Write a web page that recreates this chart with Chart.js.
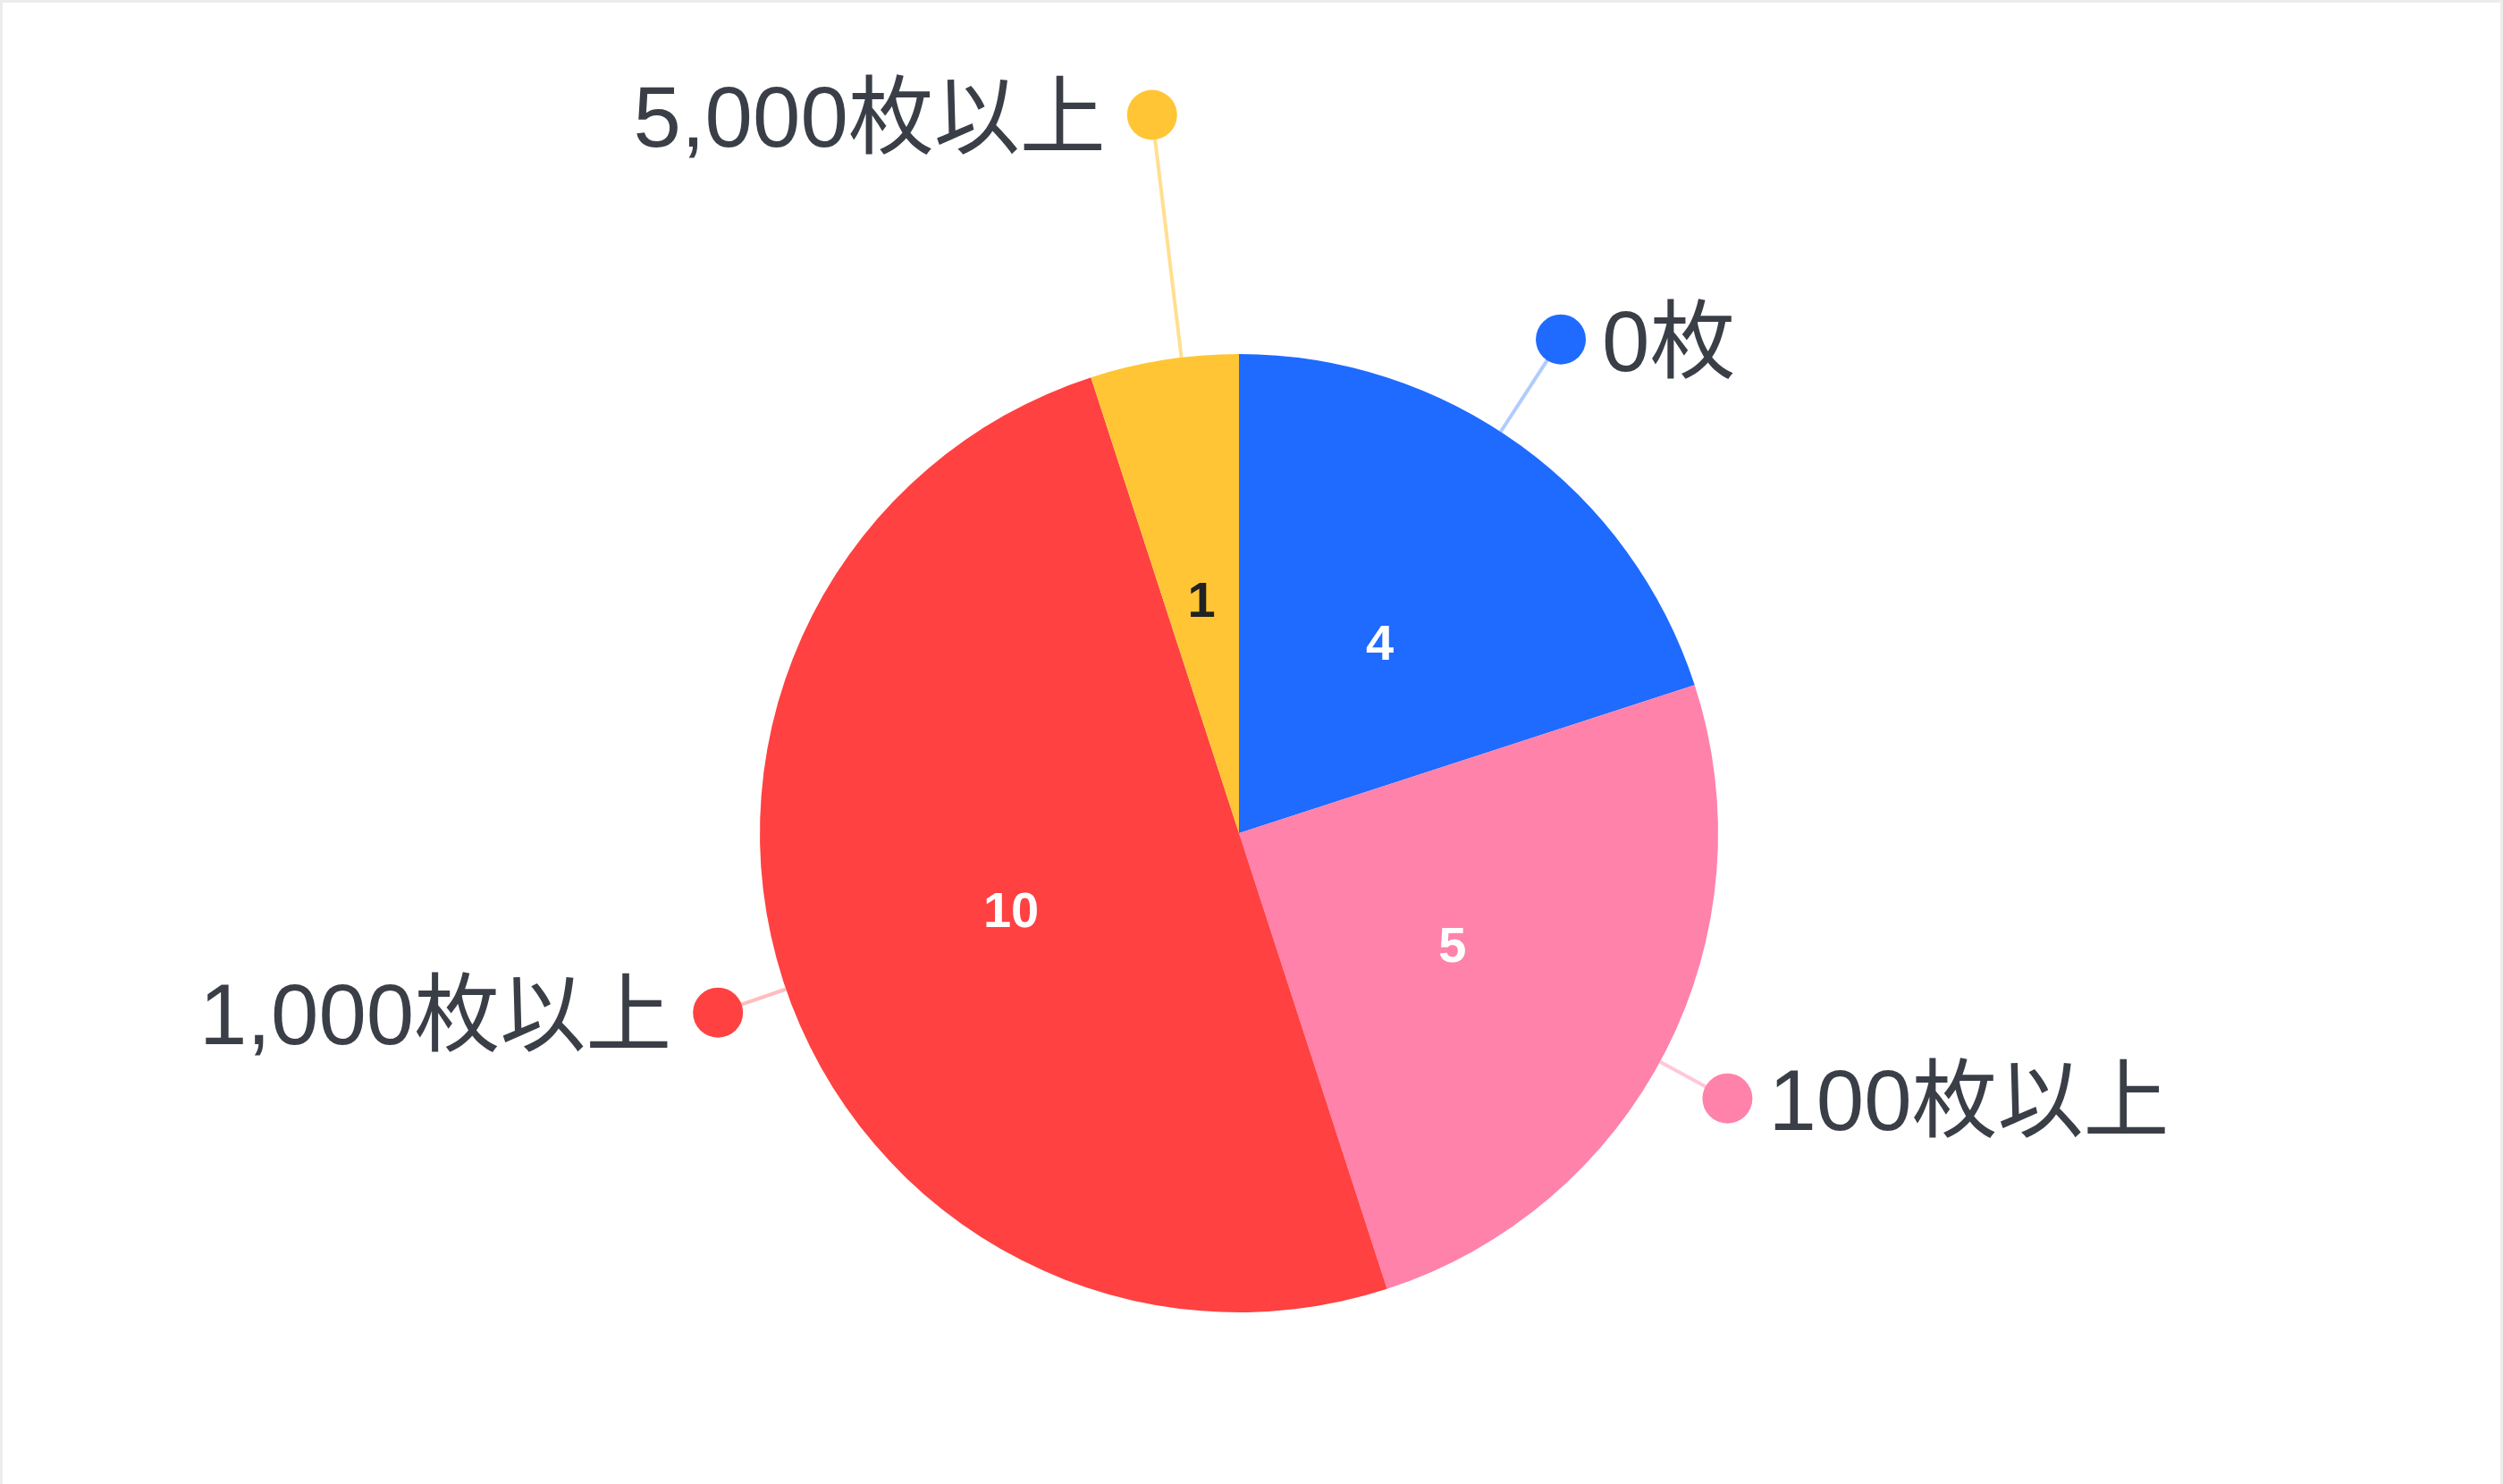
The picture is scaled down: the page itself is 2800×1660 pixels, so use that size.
<!DOCTYPE html>
<html>
<head>
<meta charset="utf-8">
<script src="https://cdn.jsdelivr.net/npm/chart.js@4"></script>
<style>
  html, body { margin: 0; padding: 0; background: #ffffff; }
  #wrap { position: relative; width: 2800px; height: 1660px; box-sizing: border-box;
          border-left: 3px solid #ececec; border-top: 3px solid #ececec; border-right: 3px solid #ececec; overflow: hidden; }
  canvas { position: absolute; left: -3px; top: -3px; }
</style>
</head>
<body>
<div id="wrap"><canvas id="c" width="2800" height="1660"></canvas></div>
<script>
// ---- data ----
const categories = ['0枚', '100枚以上', '1,000枚以上', '5,000枚以上'];
const counts = [4, 5, 10, 1];

// ---- styles ----
const sliceColors = ['#1f6bff', '#ff82aa', '#ff4141', '#ffc534'];
const leaderColors = ['rgba(31,107,255,0.35)', 'rgba(255,130,170,0.45)', 'rgba(255,65,65,0.35)', 'rgba(255,197,52,0.55)'];
const insideTextColors = ['#ffffff', '#ffffff', '#ffffff', '#222222'];
const labelDistance = [1.23, 1.16, 1.15, 1.51];   // dot distance as multiple of radius
const labelAngleShift = [-2.9, 1.5, -1.0, 2.1];    // degrees
const labelSide = ['right', 'right', 'left', 'left'];

const OUT_FONT = "'Liberation Sans', 'Noto Sans CJK JP', sans-serif";
const IN_FONT = "'Liberation Sans', sans-serif";

const labelPlugin = {
  id: 'pieLabels',
  afterDatasetsDraw(chart) {
    const ctx = chart.ctx;
    const meta = chart.getDatasetMeta(0);
    meta.data.forEach((arc, i) => {
      const p = arc.getProps(['x', 'y', 'startAngle', 'endAngle', 'outerRadius'], true);
      const mid = (p.startAngle + p.endAngle) / 2;
      const r = p.outerRadius;
      // inside value
      ctx.save();
      ctx.font = 'bold 56px ' + IN_FONT;
      ctx.fillStyle = insideTextColors[i];
      ctx.textAlign = 'center';
      ctx.textBaseline = 'middle';
      ctx.fillText(String(counts[i]), p.x + Math.cos(mid) * r * 0.5, p.y + Math.sin(mid) * r * 0.5 + 7);
      ctx.restore();

      // outside label
      const a = mid + labelAngleShift[i] * Math.PI / 180;
      const d = r * labelDistance[i];
      const sx = p.x + Math.cos(a) * r, sy = p.y + Math.sin(a) * r;
      const dx = p.x + Math.cos(a) * d, dy = p.y + Math.sin(a) * d;
      ctx.save();
      ctx.strokeStyle = leaderColors[i];
      ctx.lineWidth = 4;
      ctx.beginPath();
      ctx.moveTo(sx, sy);
      ctx.lineTo(dx, dy);
      ctx.stroke();
      ctx.fillStyle = sliceColors[i];
      ctx.beginPath();
      ctx.arc(dx, dy, 28, 0, Math.PI * 2);
      ctx.fill();
      ctx.font = '96px ' + OUT_FONT;
      ctx.fillStyle = '#3a3e46';
      ctx.textBaseline = 'middle';
      if (labelSide[i] === 'right') {
        ctx.textAlign = 'left';
        ctx.fillText(categories[i], dx + 46, dy + 9);
      } else {
        ctx.textAlign = 'right';
        ctx.fillText(categories[i], dx - 52, dy + 9);
      }
      ctx.restore();
    });
  }
};

function build() {
  new Chart(document.getElementById('c'), {
    type: 'pie',
    data: {
      labels: categories,
      datasets: [{
        data: counts,
        backgroundColor: sliceColors,
        borderWidth: 0,
        hoverOffset: 0
      }]
    },
    options: {
      responsive: false,
      devicePixelRatio: 1,
      animation: false,
      layout: { padding: { top: 396, bottom: 192, left: 850, right: 878 } },
      plugins: {
        legend: { display: false },
        tooltip: { enabled: false }
      }
    },
    plugins: [labelPlugin]
  });
}

Promise.all([
  document.fonts.load("96px 'Liberation Sans'", '1,000'),
  document.fonts.load("bold 56px 'Liberation Sans'", '10'),
  document.fonts.load("96px 'Noto Sans CJK JP'", '枚以上')
]).then(build, build);
</script>
</body>
</html>
